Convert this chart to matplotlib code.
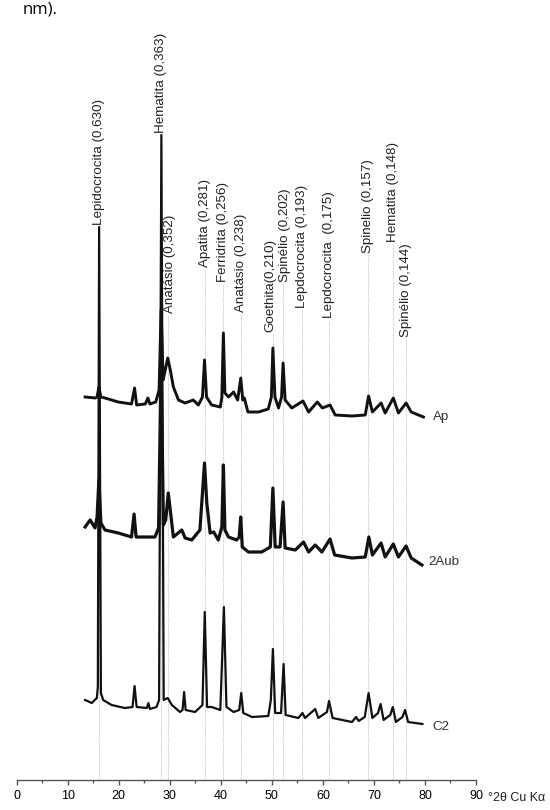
import matplotlib
matplotlib.use('Agg')
import matplotlib.pyplot as plt

# peak labels (d-spacing in nm) and their 2theta positions
peak_pos = [16.2, 28.3, 29.6, 36.8, 40.5, 43.9, 50.2, 52.2, 56.0, 61.2, 68.9, 73.7, 76.2]
peak_labels = ['Lepidocrocita (0,630)', 'Hematita (0,363)', 'Anatásio (0,352)',
               'Apatita (0,281)', 'Ferridrita (0,256)', 'Anatásio (0,238)',
               'Goethita(0,210)', 'Spinélio (0,202)', 'Lepdocrocita (0,193)',
               'Lepdocrocita  (0,175)', 'Spinelio (0,157)', 'Hematita (0,148)',
               'Spinélio (0,144)']
label_base = [555, 647, 467, 513, 498, 468, 448, 498, 472, 462, 527, 538, 443]
# small sideways nudges so neighbouring labels don't collide
label_shift = [0, 0, 0.4, 0, 0, 0, -0.5, 0.3, 0, 0, 0, 0, 0]

# diffractograms (2theta, stacked intensity)
ap_x = [13.4, 15.4, 15.75, 16.1, 16.5, 17.3, 19.9, 22.5, 23.1, 23.5, 25.2, 25.7, 26.1,
        27.25, 27.9, 28.3, 28.7, 29.6, 30.1, 30.7, 31.7, 33.0, 34.6, 35.6, 36.4, 36.8,
        37.2, 38.2, 39.9, 40.2, 40.5, 40.8, 41.5, 42.5, 43.3, 43.9, 44.3, 44.6, 45.3,
        47.4, 49.3, 49.9, 50.2, 50.6, 51.3, 51.9, 52.2, 52.6, 53.9, 56.1, 57.2, 58.9,
        59.9, 61.4, 62.4, 65.7, 68.3, 68.95, 69.7, 71.4, 72.2, 73.8, 74.8, 76.3, 77.3, 79.7]
ap_y = [383, 382, 383, 393, 383, 382, 378, 376, 392, 375, 376, 382, 376,
        378, 390, 470, 400, 422, 410, 393, 380, 377, 380, 375, 383, 420,
        383, 375, 373, 383, 447, 387, 383, 388, 380, 402, 380, 382, 368,
        368, 371, 383, 432, 383, 372, 383, 417, 380, 372, 379, 368, 378,
        372, 375, 365, 364, 365, 384, 368, 377, 367, 382, 367, 377, 368, 363]

aub_x = [13.4, 14.4, 15.35, 15.75, 16.1, 16.5, 17.3, 19.9, 22.5, 23.0, 23.4, 25.2, 27.1,
         27.8, 28.3, 28.75, 29.2, 29.7, 30.25, 30.7, 32.35, 33.0, 34.3, 35.9, 36.4, 36.8,
         37.25, 37.9, 38.6, 39.5, 40.2, 40.5, 40.8, 41.5, 43.1, 43.6, 43.9, 44.2, 45.4,
         48.0, 49.7, 50.2, 50.65, 51.6, 52.2, 52.6, 54.6, 56.2, 57.2, 58.5, 59.8, 61.4,
         62.3, 65.7, 68.3, 69.0, 69.7, 71.4, 72.2, 73.8, 74.8, 76.3, 77.3, 79.4]
aub_y = [253, 260, 252, 263, 300, 257, 250, 247, 243, 266, 243, 243, 243,
         252, 420, 255, 260, 287, 263, 243, 250, 242, 240, 250, 287, 317,
         277, 247, 248, 240, 253, 315, 250, 243, 240, 243, 263, 233, 228,
         228, 233, 292, 233, 233, 278, 232, 230, 238, 228, 235, 228, 241,
         225, 222, 223, 243, 225, 237, 223, 236, 223, 234, 222, 215]

c2_x = [13.4, 14.7, 15.7, 15.9, 16.15, 16.5, 16.95, 18.6, 21.2, 22.7, 23.1, 23.5, 25.5,
        25.8, 26.1, 27.4, 27.9, 28.35, 28.8, 29.6, 30.4, 32.0, 32.5, 32.8, 33.1, 34.95,
        36.4, 36.85, 37.3, 38.2, 39.9, 40.6, 41.1, 42.5, 43.6, 44.0, 44.4, 46.1, 49.3,
        49.8, 50.2, 50.65, 51.8, 52.3, 52.7, 55.2, 56.0, 56.5, 58.5, 59.1, 60.8, 61.2,
        61.9, 65.7, 66.5, 67.0, 68.2, 68.95, 69.7, 70.8, 71.3, 71.9, 73.2, 73.7, 74.3,
        75.6, 76.1, 76.7, 79.5]
c2_y = [80, 77, 82, 93, 553, 87, 80, 75, 72, 73, 94, 73, 72,
        77, 71, 73, 80, 645, 80, 82, 75, 68, 70, 88, 70, 68,
        75, 168, 73, 73, 70, 173, 73, 68, 70, 87, 67, 63, 64,
        80, 131, 67, 67, 116, 65, 62, 67, 62, 71, 62, 68, 79,
        62, 58, 63, 59, 63, 87, 62, 67, 76, 60, 65, 73, 58,
        63, 70, 58, 56]

sample_names = ['Ap', '2Aub', 'C2']
name_pos = [(81.6, 363), (80.6, 218), (81.4, 53)]

fig = plt.figure(figsize=(5.5, 8.1), dpi=100)
fig.text(0.042, 1 - 13 / 810, 'nm).', fontsize=12, family='Open Sans', va='baseline')

ax = fig.add_axes([16.7 / 550, 30 / 810, (476 - 16.7) / 550, 780 / 810])
ax.set_xlim(0, 90)
ax.set_ylim(0, 780)

# dotted guide lines under each label
ax.vlines(peak_pos, 0, [b - 2 for b in label_base], colors='#c4c4c4',
          linestyles=(0, (1, 1)), linewidth=0.8, zorder=1)
for x, dx, lab, b in zip(peak_pos, label_shift, peak_labels, label_base):
    ax.text(x + dx, b, lab, rotation=90, ha='center', va='bottom', fontsize=9.6,
            family='Liberation Sans', color='#222222')

ax.plot(ap_x, ap_y, color='#111111', lw=2.1, zorder=3, solid_joinstyle='round')
ax.plot(aub_x, aub_y, color='#111111', lw=2.3, zorder=3, solid_joinstyle='round')
ax.plot(c2_x, c2_y, color='#111111', lw=1.6, zorder=4, solid_joinstyle='round')

for name, (nx, ny) in zip(sample_names, name_pos):
    ax.text(nx, ny, name, ha='left', va='center', fontsize=9.6,
            family='Liberation Sans', color='#333333')

for s in ['left', 'top', 'right']:
    ax.spines[s].set_visible(False)
ax.spines['bottom'].set_color('#555555')
ax.spines['bottom'].set_linewidth(1.0)
ax.set_yticks([])
ax.set_xticks(range(0, 91, 10))
ax.set_xticks(range(5, 90, 10), minor=True)
ax.tick_params(axis='x', which='major', direction='out', length=3.5, width=1.0,
               color='#555555', labelsize=9, pad=4)
ax.tick_params(axis='x', which='minor', direction='out', length=2, width=1.0,
               color='#555555')
for t in ax.get_xticklabels():
    t.set_family('Liberation Sans')
ax.annotate('°2θ Cu Kα', xy=(90, 0), xycoords=('data', 'axes fraction'),
            xytext=(9, -13), textcoords='offset points', va='center', ha='left',
            fontsize=9, family='Liberation Sans', color='#222222')

fig.savefig('out.png', dpi=100)
